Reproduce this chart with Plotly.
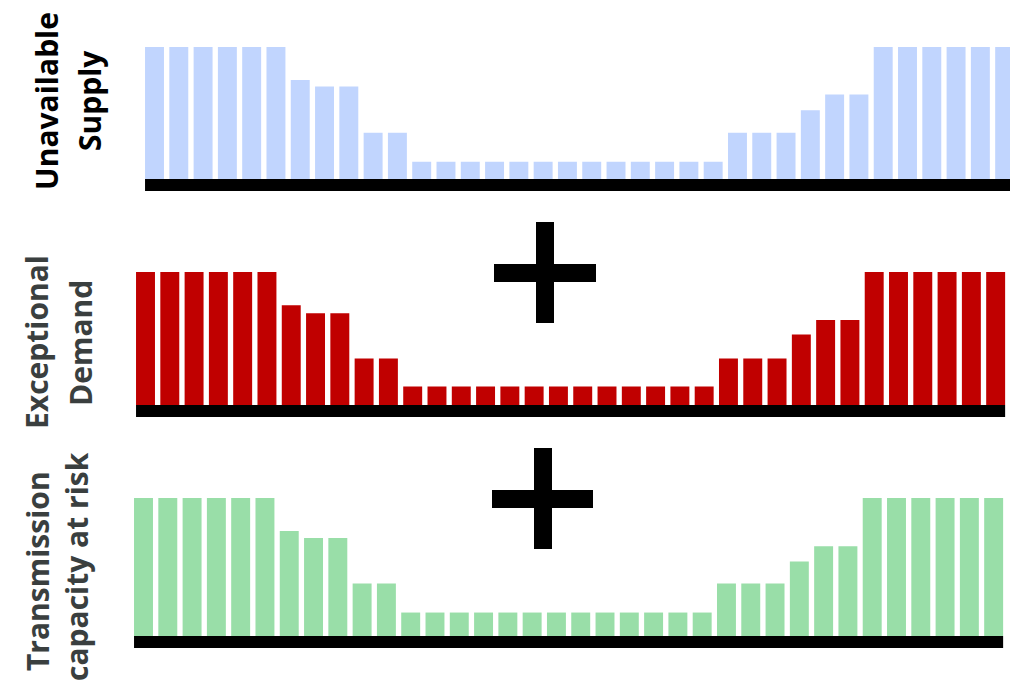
import plotly.graph_objects as go

W, H = 1010, 683

periods = list(range(36))

unavailable_supply = [100, 100, 100, 100, 100, 100, 75, 70, 70, 35, 35,
                      13, 13, 13, 13, 13, 13, 13, 13, 13, 13, 13, 13, 13,
                      35, 35, 35, 52, 64, 64, 100, 100, 100, 100, 100, 100]
exceptional_demand = [100, 100, 100, 100, 100, 100, 75, 69, 69, 35, 35,
                      14, 14, 14, 14, 14, 14, 14, 14, 14, 14, 14, 14, 14,
                      35, 35, 35, 53, 64, 64, 100, 100, 100, 100, 100, 100]
transmission_risk = [100, 100, 100, 100, 100, 100, 76, 71, 71, 38, 38,
                     17, 17, 17, 17, 17, 17, 17, 17, 17, 17, 17, 17, 17,
                     38, 38, 38, 54, 65, 65, 100, 100, 100, 100, 100, 100]

label_lines = [("Unavailable", "Supply"), ("Exceptional", "Demand"),
               ("Transmission", "capacity at risk")]
colors = ["#c1d5fe", "#c00000", "#99dea8"]
label_colors = ["#000000", "#3a3f3f", "#3a3f3f"]

fig = go.Figure()

series = [unavailable_supply, exceptional_demand, transmission_risk]
axes = [("x", "y"), ("x2", "y2"), ("x3", "y3")]
for vals, col, (xa, ya) in zip(series, colors, axes):
    fig.add_trace(go.Bar(x=periods, y=vals, marker=dict(color=col, line=dict(width=0)),
                         width=0.78, xaxis=xa, yaxis=ya, hoverinfo="skip", showlegend=False))

pitch = 24.29
panels = [
    dict(left=142.36, bottom=191, top=47, full=132),
    dict(left=133.36, bottom=417, top=272, full=133),
    dict(left=131.36, bottom=648, top=498, full=138),
]

layout = dict(width=W, height=H, margin=dict(l=0, r=0, t=0, b=0),
              paper_bgcolor="white", plot_bgcolor="white", bargap=0.22)
shapes = []
for i, p in enumerate(panels):
    sfx = "" if i == 0 else str(i + 1)
    right = min(p["left"] + 36 * pitch, W)
    xr_end = -0.5 + (right - p["left"]) / pitch
    ymin = -12 / p["full"] * 100
    layout["xaxis" + sfx] = dict(domain=[p["left"] / W, right / W], range=[-0.5, xr_end],
                                 visible=False, fixedrange=True, anchor="y" + sfx)
    layout["yaxis" + sfx] = dict(domain=[1 - p["bottom"] / H, 1 - p["top"] / H],
                                 range=[ymin, 100], visible=False, fixedrange=True,
                                 anchor="x" + sfx)
    shapes.append(dict(type="rect", xref="x" + sfx, yref="y" + sfx,
                       x0=-0.39, x1=min(35.39, xr_end), y0=ymin, y1=0,
                       fillcolor="black", line=dict(width=0), layer="above"))

plus_boxes = [
    (494, 264, 596, 282), (536, 222, 554, 323),
    (492, 490, 593, 508), (534, 448, 552, 549),
]
for x0, y0, x1, y1 in plus_boxes:
    shapes.append(dict(type="rect", xref="paper", yref="paper",
                       x0=x0 / W, x1=x1 / W, y0=1 - y1 / H, y1=1 - y0 / H,
                       fillcolor="black", line=dict(width=0)))
layout["shapes"] = shapes

# per-line centres in pixels
line_pos = [((46, 101), (89, 101)), ((36, 342), (80, 343)), ((37, 571), (76, 567))]
annotations = []
for lines, poss, c in zip(label_lines, line_pos, label_colors):
    for txt, (px, py) in zip(lines, poss):
        annotations.append(dict(text="<b>" + txt + "</b>", x=px / W, y=1 - py / H,
                                xref="paper", yref="paper", xanchor="center", yanchor="middle",
                                textangle=-90, showarrow=False, align="center",
                                font=dict(family="Open Sans", size=30, color=c)))
layout["annotations"] = annotations

fig.update_layout(**layout)
fig.write_html("out.html", config={"displayModeBar": False},
               post_script="document.body.style.margin='0px';document.body.style.overflow='hidden';")
